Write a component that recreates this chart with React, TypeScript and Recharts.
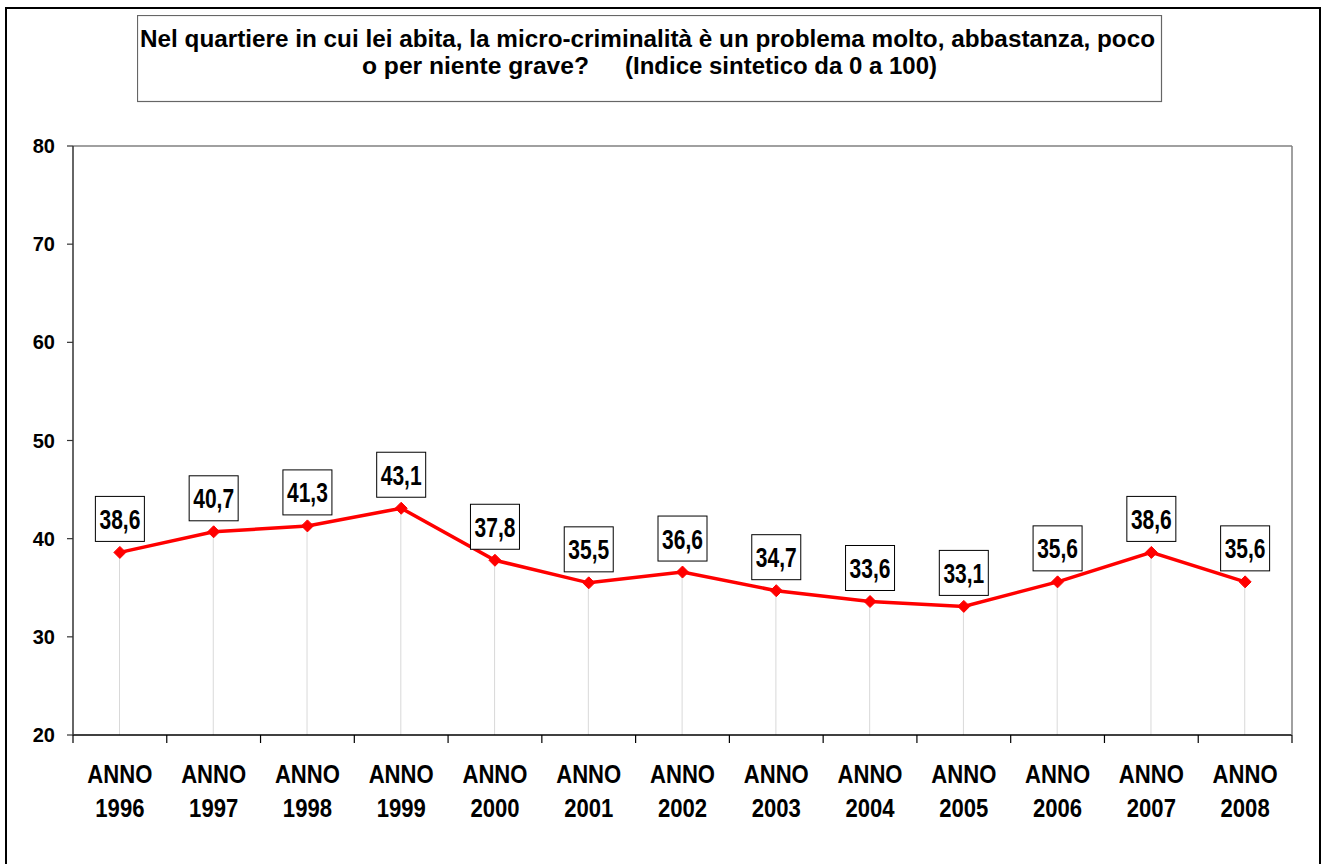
import React from 'react';
import {
  ComposedChart,
  Line,
  Bar,
  XAxis,
  YAxis,
  LabelList,
} from 'recharts';

const years = ['1996', '1997', '1998', '1999', '2000', '2001', '2002', '2003', '2004', '2005', '2006', '2007', '2008'];
const values = [38.6, 40.7, 41.3, 43.1, 37.8, 35.5, 36.6, 34.7, 33.6, 33.1, 35.6, 38.6, 35.6];
const yTicks = [20, 30, 40, 50, 60, 70, 80];

const titleLine1 = 'Nel quartiere in cui lei abita, la micro-criminalità è un problema molto, abbastanza, poco';
const titleLine2a = 'o per niente grave?';
const titleLine2b = '(Indice sintetico da 0 a 100)';

const data = years.map((year, i) => ({ year, value: values[i] }));

const FONT = '"Liberation Sans", Arial, sans-serif';

const fmt = (v: number) => v.toFixed(1).replace('.', ',');

// eslint-disable-next-line @typescript-eslint/no-explicit-any
const XTick = (props: any) => {
  const { x, y, payload, index } = props;
  const half = payload?.offset || 1219 / years.length / 2;
  return (
    <g>
      <line x1={x - half} x2={x - half} y1={y} y2={y + 8} stroke="#000" strokeWidth={1.2} />
      {index === years.length - 1 && (
        <line x1={x + half} x2={x + half} y1={y} y2={y + 8} stroke="#000" strokeWidth={1.2} />
      )}
      <g transform={`translate(${x},${y}) scale(0.85,1)`}>
        <text textAnchor="middle" y={48} fontSize={26} fontWeight="bold" fontFamily={FONT} fill="#000">
          ANNO
        </text>
        <text textAnchor="middle" y={82} fontSize={26} fontWeight="bold" fontFamily={FONT} fill="#000">
          {payload.value}
        </text>
      </g>
    </g>
  );
};

// eslint-disable-next-line @typescript-eslint/no-explicit-any
const YTick = (props: any) => {
  const { x, y, payload } = props;
  return (
    <text x={x} y={y + 7} textAnchor="end" fontSize={20} fontWeight="bold" fontFamily={FONT} fill="#000">
      {payload.value}
    </text>
  );
};

// eslint-disable-next-line @typescript-eslint/no-explicit-any
const Diamond = (props: any) => {
  const { cx, cy } = props;
  if (cx == null || cy == null) return null;
  const r = 6;
  return (
    <polygon
      points={`${cx},${cy - r} ${cx + r},${cy} ${cx},${cy + r} ${cx - r},${cy}`}
      fill="#FF0000"
      stroke="#FF0000"
    />
  );
};

// eslint-disable-next-line @typescript-eslint/no-explicit-any
const BoxLabel = (props: any) => {
  const { x, y, value } = props;
  if (x == null || y == null) return null;
  const w = 49;
  const h = 45;
  const top = y - 11 - h;
  return (
    <g>
      <rect x={x - w / 2} y={top} width={w} height={h} fill="#fff" stroke="#000" strokeWidth={1} />
      <g transform={`translate(${x},${top + h / 2 + 10}) scale(0.75,1)`}>
        <text textAnchor="middle" fontSize={28} fontWeight="bold" fontFamily={FONT} fill="#000">
          {fmt(value)}
        </text>
      </g>
    </g>
  );
};

export default function App() {
  return (
    <div style={{ position: 'absolute', left: 0, top: 0, width: 1321, height: 864, background: '#fff', overflow: 'hidden' }}>
      <div
        style={{
          position: 'absolute',
          left: 5,
          top: 7,
          width: 1316,
          height: 880,
          border: '2.5px solid #000',
          boxSizing: 'border-box',
        }}
      />
      <div style={{ position: 'absolute', left: 0, top: 0 }}>
        <ComposedChart
          width={1321}
          height={864}
          data={data}
          margin={{ top: 145, right: 28, bottom: 29, left: 0 }}
        >
          <XAxis
            dataKey="year"
            interval={0}
            height={100}
            tickSize={0}
            tickMargin={0}
            tickLine={false}
            axisLine={{ stroke: '#000', strokeWidth: 1.5 }}
            tick={<XTick />}
          />
          <XAxis
            xAxisId="top"
            dataKey="year"
            orientation="top"
            height={1}
            tick={false}
            tickLine={false}
            axisLine={{ stroke: '#808080', strokeWidth: 1.5 }}
          />
          <YAxis
            domain={[20, 80]}
            ticks={yTicks}
            width={73}
            tickSize={6}
            tickMargin={12}
            axisLine={{ stroke: '#333', strokeWidth: 1.5 }}
            tickLine={{ stroke: '#333', strokeWidth: 1.2 }}
            tick={<YTick />}
            allowDataOverflow
          />
          <YAxis
            yAxisId="right"
            orientation="right"
            domain={[20, 80]}
            width={1}
            tick={false}
            tickLine={false}
            axisLine={{ stroke: '#808080', strokeWidth: 1.5 }}
          />
          <Bar dataKey="value" barSize={1} fill="#D9D9D9" isAnimationActive={false} />
          <Line
            xAxisId="top"
            yAxisId="right"
            dataKey="value"
            stroke="none"
            dot={false}
            activeDot={false}
            legendType="none"
            isAnimationActive={false}
          />
          <Line
            type="linear"
            dataKey="value"
            stroke="#FF0000"
            strokeWidth={3.5}
            dot={<Diamond />}
            activeDot={false}
            isAnimationActive={false}
          >
            <LabelList dataKey="value" content={<BoxLabel />} />
          </Line>
        </ComposedChart>
      </div>
      <svg style={{ position: 'absolute', left: 137, top: 15 }} width={1026} height={88}>
        <rect x={0.5} y={0.5} width={1024} height={86} fill="#fff" stroke="#666" strokeWidth={1.2} />
        <text
          x={3}
          y={32}
          fontSize={23}
          fontWeight="bold"
          fontFamily={FONT}
          fill="#000"
          textLength={1015}
          lengthAdjust="spacingAndGlyphs"
        >
          {titleLine1}
        </text>
        <text
          x={225}
          y={59}
          fontSize={23}
          fontWeight="bold"
          fontFamily={FONT}
          fill="#000"
          textLength={227}
          lengthAdjust="spacingAndGlyphs"
        >
          {titleLine2a}
        </text>
        <text
          x={488}
          y={59}
          fontSize={23}
          fontWeight="bold"
          fontFamily={FONT}
          fill="#000"
          textLength={312}
          lengthAdjust="spacingAndGlyphs"
        >
          {titleLine2b}
        </text>
      </svg>
    </div>
  );
}
